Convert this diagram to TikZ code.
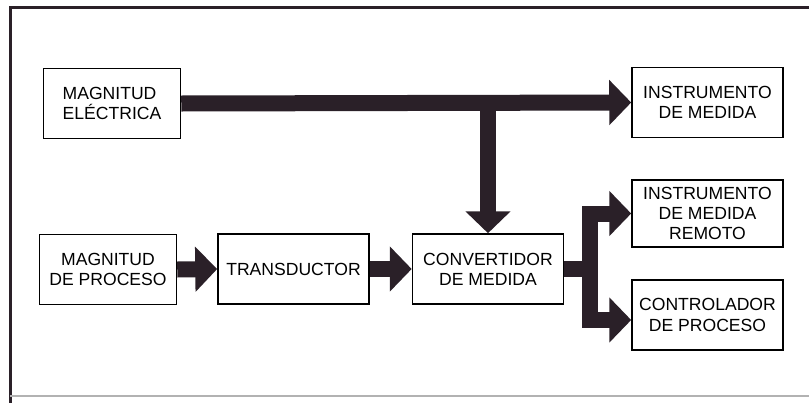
\documentclass[tikz,border=0pt]{standalone}
\usepackage{fontspec}
\setmainfont{Liberation Sans}
\usepackage{tikz}
\usetikzlibrary{positioning,arrows.meta}
\definecolor{barcol}{RGB}{42,32,40}

\begin{document}
\begin{tikzpicture}[
  x=0.2mm, y=-0.2mm,
  every node/.style={font=\fontsize{10}{11.5}\selectfont},
  box/.style={draw, rectangle, line width=0.3mm, minimum height=14mm,
              minimum width=30.2mm, align=center, inner sep=1pt},
  inbox/.style={box, minimum width=27.4mm},
  bar/.style={line width=3.2mm, draw=barcol},
  fat/.style={bar, -{Triangle[width=8.8mm,length=4.4mm]}}
]
\useasboundingbox (0,0) rectangle (809,403);

% ---- Frame ----
\draw[line width=0.6mm, barcol] (809,7) -- (10,7) -- (10,403);
\draw[line width=0.3mm, black!30] (10,396) -- (809,396);

% ---- Column positions ----
\def\xA{110}     % inputs
\def\xB{293.5}   % transducer
\def\xC{488}     % converter
\def\xD{707.5}   % outputs

% ---- Inputs ----
\node[inbox, align=left] (elec) at (\xA+2,103.5) {MAGNITUD\\ELÉCTRICA};
\node[inbox] (proc) at (\xA-2,269.5) {MAGNITUD\\DE PROCESO};

% ---- Chain ----
\node[box] (trans) at (\xB,269) {TRANSDUCTOR};
\node[box] (conv)  at (\xC,269) {CONVERTIDOR\\DE MEDIDA};

% ---- Outputs ----
\node[box] (inst)   at (\xD,102.5) {INSTRUMENTO\\DE MEDIDA};
\node[box, minimum height=13.4mm] (remote) at (\xD,213.5) {INSTRUMENTO\\DE MEDIDA\\REMOTO};
\node[box] (ctrl)   at (\xD,315) {CONTROLADOR\\DE PROCESO};

% ---- Arrows: upper line ----
\draw[fat] (elec.east) -- (inst.west);
\coordinate (tap) at (conv.north |- elec.east);
\draw[fat] (tap) -- (conv.north);

% ---- Arrows: lower line ----
\draw[fat] (proc.east) -- (trans.west);
\draw[fat] (trans.east) -- (conv.west);

% ---- Split to outputs ----
\coordinate (split) at (590,269);
\draw[bar] (conv.east) -- (split);
\draw[fat] (split) |- (remote.west);
\draw[fat] (split) |- ([yshift=-1mm]ctrl.west);

\end{tikzpicture}
\end{document}
